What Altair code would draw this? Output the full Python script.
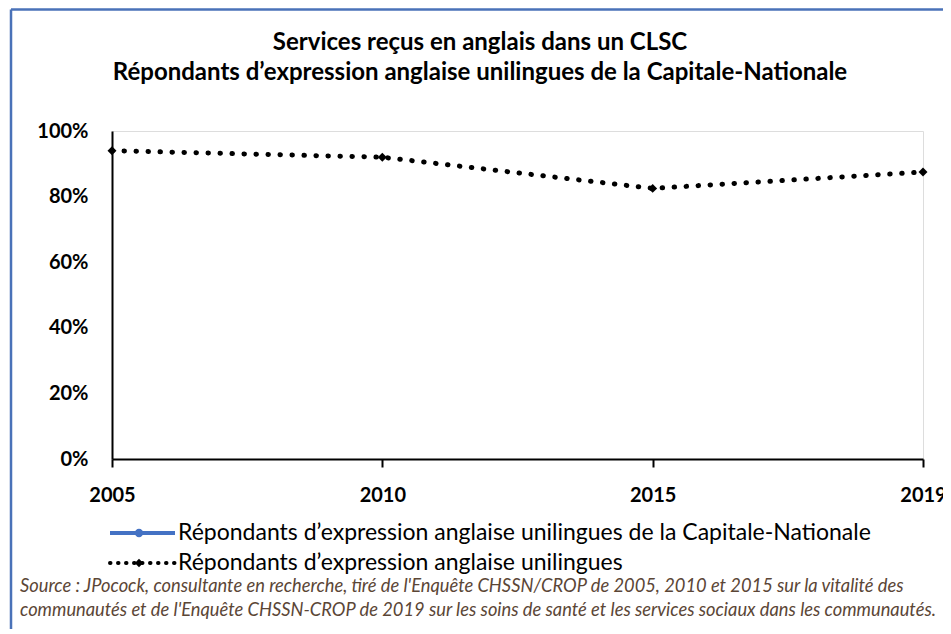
import altair as alt
import pandas as pd

# ---- data ----
annees = ["2005", "2010", "2015", "2019"]
valeurs = [0.94, 0.92, 0.825, 0.875]
series = [
    "Répondants d’expression anglaise unilingues de la Capitale-Nationale",
    "Répondants d’expression anglaise unilingues",
]
couleurs = ["#4472C4", "#000000"]
formes = ["circle", "diamond"]
y_ticks = [0, 0.2, 0.4, 0.6, 0.8, 1.0]
titre = ("Services reçus en anglais  dans un CLSC\n"
         "Répondants d’expression anglaise unilingues de la Capitale-Nationale")
source = ("Source : JPocock, consultante en recherche, tiré de l'Enquête CHSSN/CROP de 2005, 2010 et 2015 sur la vitalité des\n"
          "communautés et de l'Enquête CHSSN-CROP de 2019 sur les soins de santé et les services sociaux dans les communautés.")

df = pd.DataFrame({"annee": annees, "valeur": valeurs, "serie": [series[1]] * len(annees)})
leg_df = pd.DataFrame({"serie": series, "rang": list(range(len(series)))})

FONT = "Lato"

x_enc = alt.X("annee:O", title=None, sort=annees,
              scale=alt.Scale(type="point", padding=0),
              axis=alt.Axis(labelAngle=0, labelFont=FONT, labelFontSize=20, labelFontWeight="bold",
                            labelColor="black", domainColor="black", domainWidth=2,
                            tickColor="black", tickWidth=2, tickSize=8, labelPadding=18, grid=False))
y_enc = alt.Y("valeur:Q", title=None,
              scale=alt.Scale(domain=[0, 1], nice=False),
              axis=alt.Axis(values=y_ticks, format=".0%", labelFont=FONT, labelFontSize=20,
                            labelFontWeight="bold", labelColor="black", domainColor="black",
                            domainWidth=2, ticks=False, labelPadding=24, grid=False))

line = alt.Chart(df).mark_line(strokeWidth=5, strokeCap="round", strokeDash=[0.5, 11.5], color="black").encode(
    x=x_enc, y=y_enc
)
points = alt.Chart(df).mark_point(shape="diamond", filled=True, size=80, color="black", opacity=1).encode(
    x=alt.X("annee:O", sort=annees), y="valeur:Q"
)
main = alt.layer(line, points)

# ---- legend (built from the series list) ----
leg_y = alt.Y("rang:Q", scale=alt.Scale(domain=[0, 1], range=[402, 432]), axis=None)
leg_color = alt.Color("serie:N", scale=alt.Scale(domain=series, range=couleurs), legend=None)

leg_solid = alt.Chart(leg_df).transform_filter(alt.datum.rang == 0).mark_rule(
    strokeWidth=4).encode(x=alt.value(-2), x2=alt.value(63), y=leg_y, color=leg_color)
leg_dot = alt.Chart(leg_df).transform_filter(alt.datum.rang == 1).mark_rule(
    strokeWidth=4, strokeCap="round", strokeDash=[0.5, 7.5]).encode(
    x=alt.value(-2), x2=alt.value(63), y=leg_y, color=leg_color)
leg_pts = alt.Chart(leg_df).mark_point(filled=True, size=70, opacity=1).encode(
    x=alt.value(27), y=leg_y, color=leg_color,
    shape=alt.Shape("serie:N", scale=alt.Scale(domain=series, range=formes), legend=None))
leg_txt = alt.Chart(leg_df).mark_text(
    align="left", baseline="middle", font=FONT, fontSize=23, color="black").encode(
    x=alt.value(66), y=leg_y, text="serie:N")
legend = alt.layer(leg_solid, leg_dot, leg_pts, leg_txt)

title_txt = alt.Chart(pd.DataFrame({"t": [titre]})).mark_text(
    align="center", baseline="middle", lineBreak="\n", font=FONT, fontWeight="bold",
    fontSize=24, lineHeight=30, color="black"
).encode(x=alt.value(368), y=alt.value(-88), text="t:N")

src = alt.Chart(pd.DataFrame({"t": [source]})).mark_text(
    align="left", baseline="top", lineBreak="\n", font=FONT, fontStyle="italic",
    fontSize=18.3, lineHeight=24, color="#5b4636"
).encode(x=alt.value(-92), y=alt.value(447), text="t:N")

border_left = alt.Chart(pd.DataFrame({"a": [0]})).mark_rule(color="#4a72b8", strokeWidth=2.5).encode(
    x=alt.value(-101), y=alt.value(-121.5), y2=alt.value(510)
)
border_top = alt.Chart(pd.DataFrame({"a": [0]})).mark_rule(color="#4a72b8", strokeWidth=2.5).encode(
    x=alt.value(-101), x2=alt.value(860), y=alt.value(-121.5)
)

chart = alt.layer(border_left, border_top, main, legend, title_txt, src).resolve_scale(
    y="independent"
).properties(
    width=811, height=328,
    autosize=alt.AutoSizeParams(type="none"),
    padding={"left": 104, "top": 123, "right": 20, "bottom": 170},
).configure_view(stroke=None).configure(background="white")

chart.save("out.html", embed_options={"renderer": "svg", "actions": False})
